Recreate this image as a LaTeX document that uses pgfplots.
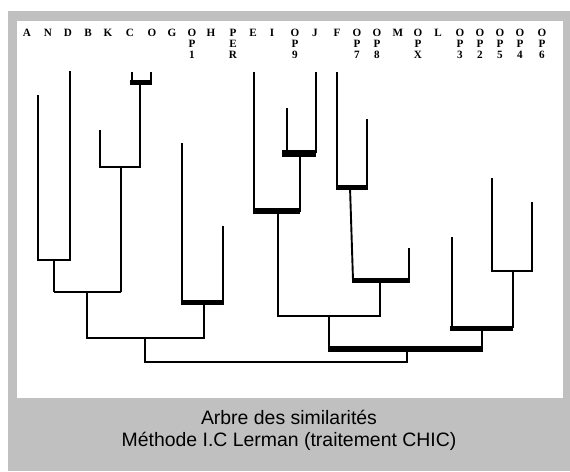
\documentclass[border=0pt]{standalone}
\usepackage{pgfplots}
\pgfplotsset{compat=1.18}
\usepackage{fontspec}
\setmainfont{Liberation Serif}
\newfontfamily\capfont{Liberation Sans}
\definecolor{framegrey}{RGB}{192,192,192}
\tikzset{
  dthin/.style={black, line width=1.9bp, line cap=butt, line join=miter, mark=none},
  dthick/.style={black, line width=5.5bp, line cap=butt, mark=none},
  lab/.style={anchor=north, inner sep=0pt, align=center, font=\fontsize{11.2}{10.9}\selectfont\bfseries},
  captxt/.style={anchor=base, inner sep=0pt, font=\capfont\fontsize{19.5}{23}\selectfont}}
\begin{document}
\begin{tikzpicture}
\begin{axis}[scale only axis, width=570bp, height=471bp,
  xmin=0, xmax=570, ymin=0, ymax=471, y dir=reverse,
  hide axis, clip=false]
% frame
\fill[white] (axis cs:0,0) rectangle (axis cs:570,471);
\fill[framegrey] (axis cs:8,11) rectangle (axis cs:570,471);
\fill[white] (axis cs:17,21) rectangle (axis cs:563,398);
% labels
\node[lab] at (axis cs:27,29) {A};
\node[lab] at (axis cs:48,29) {N};
\node[lab] at (axis cs:68,29) {D};
\node[lab] at (axis cs:88,29) {B};
\node[lab] at (axis cs:108,29) {K};
\node[lab] at (axis cs:130,29) {C};
\node[lab] at (axis cs:152,29) {O};
\node[lab] at (axis cs:172,29) {G};
\node[lab] at (axis cs:192,29) {O\\P\\1};
\node[lab] at (axis cs:211,29) {H};
\node[lab] at (axis cs:233,29) {P\\E\\R};
\node[lab] at (axis cs:253,29) {E};
\node[lab] at (axis cs:272,29) {I};
\node[lab] at (axis cs:295,29) {O\\P\\9};
\node[lab] at (axis cs:315,29) {J};
\node[lab] at (axis cs:337,29) {F};
\node[lab] at (axis cs:357,29) {O\\P\\7};
\node[lab] at (axis cs:377,29) {O\\P\\8};
\node[lab] at (axis cs:398,29) {M};
\node[lab] at (axis cs:418,29) {O\\P\\X};
\node[lab] at (axis cs:438,29) {L};
\node[lab] at (axis cs:460,29) {O\\P\\3};
\node[lab] at (axis cs:480,29) {O\\P\\2};
\node[lab] at (axis cs:500,29) {O\\P\\5};
\node[lab] at (axis cs:520,29) {O\\P\\4};
\node[lab] at (axis cs:542,29) {O\\P\\6};
% thin links
\addplot[dthin] coordinates {(38,95) (38,260) (70,260) (70,71)};
\addplot[dthin] coordinates {(54,260) (54,292)};
\addplot[dthin] coordinates {(100,130) (100,167) (140,167) (140,84)};
\addplot[dthin] coordinates {(121,167) (121,292)};
\addplot[dthin] coordinates {(54,292) (121,292)};
\addplot[dthin] coordinates {(87,292) (87,338) (204,338) (204,302)};
\addplot[dthin] coordinates {(182,143) (182,302)};
\addplot[dthin] coordinates {(223,226) (223,302)};
\addplot[dthin] coordinates {(145,338) (145,362) (407,362) (407,349)};
\addplot[dthin] coordinates {(132,72) (132,82)};
\addplot[dthin] coordinates {(151,72) (151,82)};
\addplot[dthin] coordinates {(254,72) (254,212)};
\addplot[dthin] coordinates {(316,72) (316,153)};
\addplot[dthin] coordinates {(287,108) (287,153)};
\addplot[dthin] coordinates {(300,153) (300,212)};
\addplot[dthin] coordinates {(278,212) (278,316) (380,316) (380,280)};
\addplot[dthin] coordinates {(337,72) (337,187)};
\addplot[dthin] coordinates {(367,119) (367,187)};
\addplot[dthin] coordinates {(350,187) (353,280)};
\addplot[dthin] coordinates {(409,248) (409,280)};
\addplot[dthin] coordinates {(329,316) (329,349)};
\addplot[dthin] coordinates {(482,349) (482,328)};
\addplot[dthin] coordinates {(452,237) (452,328)};
\addplot[dthin] coordinates {(513,328) (513,271)};
\addplot[dthin] coordinates {(492,178) (492,271) (532,271) (532,202)};
% thick links
\addplot[dthick, line width=5bp] coordinates {(130,82.5) (152,82.5)};
\addplot[dthick, line width=5bp] coordinates {(181,302) (224,302)};
\addplot[dthick, line width=7bp] coordinates {(282,153) (316,153)};
\addplot[dthick, line width=6bp] coordinates {(253,211) (300,211)};
\addplot[dthick, line width=5bp] coordinates {(336,187) (368,187)};
\addplot[dthick, line width=5bp] coordinates {(352,280) (410,280)};
\addplot[dthick, line width=5.5bp] coordinates {(328,349) (483,349)};
\addplot[dthick, line width=5bp] coordinates {(450,328) (513,328)};
% caption
\node[captxt] at (axis cs:289,424) {Arbre des similarités};
\node[captxt] at (axis cs:289,446.5) {Méthode I.C Lerman (traitement CHIC)};
\end{axis}
\end{tikzpicture}
\end{document}
